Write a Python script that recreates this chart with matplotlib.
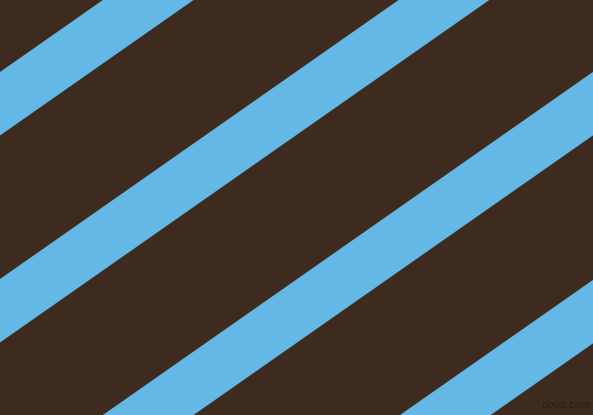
import matplotlib
matplotlib.use("Agg")
import matplotlib.pyplot as plt
import numpy as np

# Stripe geometry (image pixel coords, y measured downward)
stripe_upper_intercepts = [72, 279, 487, 695]   # y of upper edge at x=0
stripe_width = 63.5                             # vertical thickness
slope = 0.70                                    # y decreases by 0.70 per px in x

background_color = "#3D2B20"
stripe_color = "#64B8E5"

W, H = 593, 415
fig = plt.figure(figsize=(W / 100, H / 100), dpi=100)
ax = fig.add_axes([0, 0, 1, 1])
ax.set_xlim(0, W)
ax.set_ylim(H, 0)
ax.set_facecolor(background_color)
fig.patch.set_facecolor(background_color)
ax.axis("off")

x = np.array([0, W])
for c in stripe_upper_intercepts:
    ax.fill_between(x, c - slope * x, c + stripe_width - slope * x,
                    color=stripe_color, linewidth=0)

ax.text(590, 410, "pixlis.com", color="#2B1D15", fontsize=7,
        ha="right", va="bottom", family="DejaVu Sans")

fig.savefig("out.png", dpi=100, facecolor=background_color)
